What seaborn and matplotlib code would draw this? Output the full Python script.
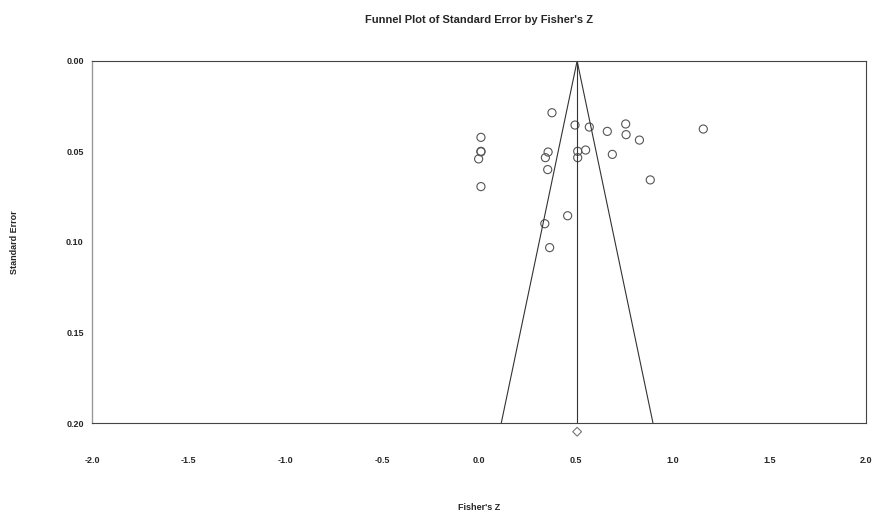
import matplotlib
matplotlib.use("Agg")
import matplotlib.pyplot as plt
import seaborn as sns
import numpy as np
import pandas as pd

# Study effect sizes (Fisher's Z) and their standard errors
fisher_z = [0.377, 0.496, 0.570, 0.758, 0.663, 0.760, 0.829, 1.159,
            0.010, 0.010, 0.010, -0.002, 0.010,
            0.357, 0.343, 0.510, 0.510, 0.551, 0.689, 0.355,
            0.885, 0.458, 0.340, 0.365]
std_err = [0.0286, 0.0354, 0.0365, 0.0348, 0.0389, 0.0407, 0.0437, 0.0376,
           0.0422, 0.0499, 0.0502, 0.0541, 0.0694,
           0.0503, 0.0534, 0.0499, 0.0534, 0.0492, 0.0516, 0.0600,
           0.0657, 0.0855, 0.0899, 0.1031]

# Combined estimate and its standard error (diamond under the axis)
pooled_z = 0.507
pooled_se = 0.2048
se_max = 0.20

x_ticks = [-2.0, -1.5, -1.0, -0.5, 0.0, 0.5, 1.0, 1.5, 2.0]
y_ticks = [0.00, 0.05, 0.10, 0.15, 0.20]

df = pd.DataFrame({"z": fisher_z, "se": std_err})

sns.set_style("white")
plt.rcParams["font.family"] = ["Liberation Sans", "DejaVu Sans"]

fig = plt.figure(figsize=(8.73, 5.15), dpi=100)
ax = fig.add_axes([0.1054, 0.1786, 0.8866, 0.7030])

# funnel: pooled estimate +/- 1.96*SE
se_line = np.array([0.0, se_max])
ax.plot(pooled_z - 1.96 * se_line, se_line, color="#333333", lw=0.8)
ax.plot(pooled_z + 1.96 * se_line, se_line, color="#333333", lw=0.8)
ax.plot([pooled_z, pooled_z], se_line, color="#333333", lw=0.8)

sns.scatterplot(data=df, x="z", y="se", ax=ax, marker="o", s=34,
                facecolor="none", edgecolor="#555555", linewidth=0.8)

ax.scatter([pooled_z], [pooled_se], marker="D", s=20, facecolor="none",
           edgecolor="#777777", linewidth=0.8, clip_on=False, zorder=5)

ax.set_xlim(-2.0, 2.0)
ax.set_ylim(se_max, 0.0)
ax.set_xticks(x_ticks)
ax.set_xticklabels([f"{t:.1f}" for t in x_ticks], fontsize=6.5, fontweight="bold")
ax.set_yticks(y_ticks)
ax.set_yticklabels([f"{t:.2f}" for t in y_ticks], fontsize=6.5, fontweight="bold")
ax.tick_params(axis="x", direction="in", length=3, width=0.7, pad=24, color="#555555")
ax.tick_params(axis="y", direction="out", length=3, width=0.7, pad=3, color="#777777")

for side in ["top", "right", "bottom"]:
    ax.spines[side].set_color("#444444")
    ax.spines[side].set_linewidth(0.8)
ax.spines["left"].set_color("#999999")
ax.spines["left"].set_linewidth(1.0)

ax.set_xlabel("Fisher's Z", fontsize=6.5, fontweight="bold", labelpad=27)
ax.set_ylabel("Standard Error", fontsize=6.5, fontweight="bold", labelpad=34)
ax.set_title("Funnel Plot of Standard Error by Fisher's Z", fontsize=8,
             fontweight="bold", pad=27)

fig.savefig("out.png", dpi=100)
